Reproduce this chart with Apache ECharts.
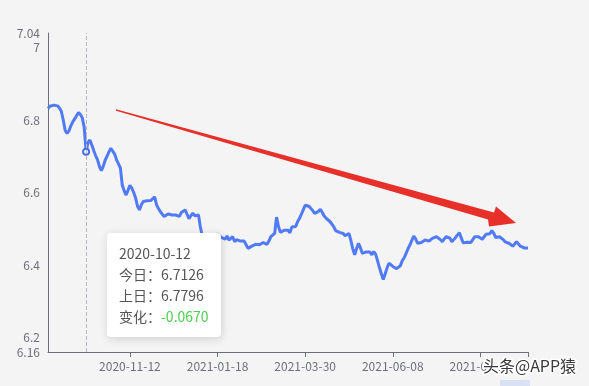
<!DOCTYPE html>
<html><head><meta charset="utf-8">
<script src="https://cdn.jsdelivr.net/npm/echarts@6/dist/echarts.min.js"></script>
<style>html,body{margin:0;padding:0;background:#f4f4f5;overflow:hidden}#c{width:589px;height:386px}</style>
</head><body><div id="c"></div>
<script>
// ---- data ----
const startDate = '2020-09-04';
const holidays = ['2020-10-01','2020-10-02','2020-10-05','2020-10-06','2020-10-07','2020-10-08',
  '2021-01-01','2021-02-11','2021-02-12','2021-02-15','2021-02-16','2021-02-17',
  '2021-04-05','2021-05-03','2021-05-04','2021-05-05','2021-06-14'];
const values = [
  6.832,6.838,6.843,6.841,6.836,6.839,6.833,6.824,6.800,6.772,
  6.763,6.770,6.784,6.795,6.803,6.812,6.821,6.815,6.806,6.7796,
  6.7126,6.738,6.745,6.731,6.716,6.702,6.690,6.672,6.660,6.672,
  6.689,6.700,6.712,6.722,6.726,6.706,6.690,6.686,6.668,6.620,
  6.605,6.593,6.606,6.620,6.612,6.600,6.585,6.562,6.552,6.566,
  6.575,6.572,6.577,6.574,6.578,6.583,6.588,6.566,6.556,6.547,
  6.540,6.534,6.536,6.541,6.544,6.538,6.542,6.538,6.535,6.534,
  6.545,6.548,6.552,6.540,6.528,6.524,6.543,6.536,6.534,6.538,
  6.505,6.480,6.478,6.484,6.476,6.481,6.474,6.482,6.478,6.485,
  6.483,6.476,6.472,6.471,6.480,6.469,6.474,6.478,6.464,6.470,
  6.471,6.466,6.464,6.466,6.456,6.446,6.441,6.452,6.455,6.457,
  6.460,6.456,6.455,6.462,6.466,6.457,6.466,6.478,6.480,6.487,
  6.532,6.506,6.490,6.487,6.496,6.498,6.496,6.489,6.505,6.510,
  6.506,6.519,6.528,6.540,6.552,6.565,6.568,6.562,6.560,6.550,
  6.542,6.540,6.548,6.554,6.545,6.535,6.529,6.524,6.520,6.518,
  6.506,6.495,6.492,6.490,6.488,6.487,6.481,6.478,6.487,6.468,
  6.445,6.428,6.445,6.460,6.448,6.432,6.428,6.436,6.441,6.436,
  6.428,6.437,6.430,6.412,6.393,6.376,6.360,6.375,6.392,6.405,
  6.400,6.396,6.394,6.390,6.386,6.398,6.412,6.420,6.432,6.445,
  6.455,6.468,6.480,6.472,6.460,6.457,6.462,6.466,6.469,6.465,
  6.466,6.462,6.474,6.470,6.478,6.474,6.470,6.464,6.472,6.478,
  6.483,6.474,6.464,6.470,6.476,6.483,6.489,6.474,6.461,6.462,
  6.463,6.462,6.462,6.470,6.478,6.483,6.478,6.474,6.471,6.478,
  6.485,6.489,6.486,6.495,6.488,6.476,6.480,6.478,6.483,6.470,
  6.464,6.466,6.460,6.455,6.452,6.458,6.464,6.460,6.452,6.449,
  6.447,6.446,6.447
];
const yMin = 6.16, yMax = 7.04;
const firstLabelDate = '2020-11-12';
const labelStep = 46;
const tipDate = '2020-10-12';
const watermark = '头条@APP猿';

function tradingDays(start, n, hol) {
  const out = []; const d = new Date(start + 'T00:00:00Z');
  while (out.length < n) {
    const w = d.getUTCDay(); const s = d.toISOString().slice(0, 10);
    if (w !== 0 && w !== 6 && hol.indexOf(s) < 0) out.push(s);
    d.setUTCDate(d.getUTCDate() + 1);
  }
  return out;
}
const dates = tradingDays(startDate, values.length, holidays);
const firstIdx = dates.indexOf(firstLabelDate);
const lastIdx = dates.length - 1;
const isLabel = i => i >= firstIdx && (i - firstIdx) % labelStep === 0;

const chart = echarts.init(document.getElementById('c'), null, {renderer: 'canvas'});
const txt = '#6e7079';
chart.setOption({
  animation: false,
  backgroundColor: '#f4f4f5',
  textStyle: {fontFamily: '"Noto Sans CJK SC", "Noto Sans", sans-serif'},
  grid: {left: 48, right: 61, top: 33, bottom: 34, containLabel: false},
  tooltip: {
    trigger: 'axis',
    alwaysShowContent: true,
    transitionDuration: 0,
    position: [107, 233],
    backgroundColor: '#fff',
    borderWidth: 0,
    padding: [10, 12],
    extraCssText: 'box-shadow: rgba(0,0,0,0.15) 1px 2px 10px;border-radius:4px;',
    axisPointer: {type: 'line', lineStyle: {color: '#b8b8c0', type: 'dashed', width: 1}},
    formatter: function (params) {
      const i = params[0].dataIndex;
      const cur = values[i], prev = values[i - 1];
      const diff = cur - prev;
      const s = 'font-size:14px;line-height:21px;color:#555;font-family:"Noto Sans CJK SC",sans-serif;';
      return '<div style="' + s + '">' + dates[i] + '<br>今日：' + cur.toFixed(4) +
        '<br>上日：' + prev.toFixed(4) + '<br>变化：<span style="color:' + (diff < 0 ? '#4ccf52' : '#e33') + '">' +
        diff.toFixed(4) + '</span></div>';
    }
  },
  xAxis: {
    type: 'category',
    boundaryGap: false,
    data: dates,
    axisLine: {lineStyle: {color: txt}},
    axisTick: {interval: i => isLabel(i) || i === lastIdx, length: 5},
    axisLabel: {interval: i => isLabel(i), color: txt, fontSize: 12, margin: 8},
    splitLine: {show: false}
  },
  yAxis: {
    type: 'value',
    min: yMin, max: yMax,
    axisLine: {show: true, lineStyle: {color: txt}},
    axisTick: {show: false},
    splitLine: {show: false},
    axisLabel: {color: txt, fontSize: 12, margin: 8}
  },
  series: [{
    type: 'line',
    data: values,
    showSymbol: false,
    symbol: 'emptyCircle',
    symbolSize: 4,
    lineStyle: {color: '#4a6fe0', width: 3},
    itemStyle: {color: '#4a6fe0'}
  }],
  graphic: [
    {type: 'polygon', silent: true, z: 100,
      shape: {points: [[116,109.3],[494,212.5],[496,206.5],[516,223],[489,226.5],[488,219.5],[116,110.8]]},
      style: {fill: '#e8302a'}},
    {type: 'rect', silent: true, z: 90, shape: {x: 500, y: 380, width: 30, height: 6},
      style: {fill: '#d9e2f5'}},
    {type: 'text', silent: true, z: 100, x: 483, y: 358,
      style: {text: watermark, fill: '#3a3a3a', stroke: '#ffffff', lineWidth: 3,
        font: '16px "Noto Sans CJK SC", sans-serif'}}
  ]
});
chart.dispatchAction({type: 'showTip', seriesIndex: 0, dataIndex: dates.indexOf(tipDate)});
</script>
</body></html>
